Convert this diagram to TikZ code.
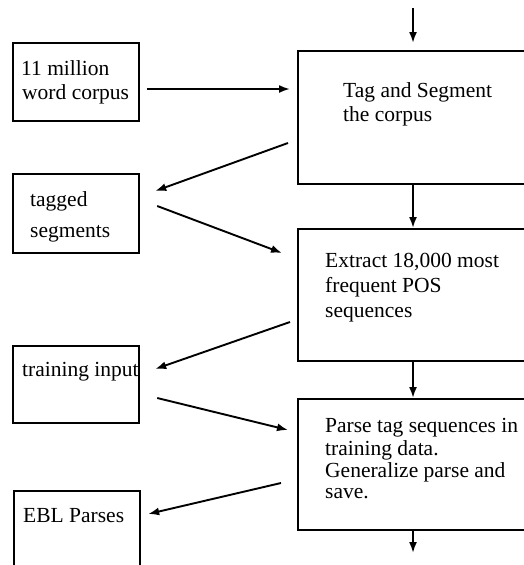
\documentclass[tikz,border=0pt]{standalone}
\usepackage{fontspec}
\setmainfont{Liberation Serif}
\usetikzlibrary{arrows.meta,calc}
\begin{document}
\begin{tikzpicture}[x=1pt,y=-1pt,
  box/.style={draw=black,line width=2.2pt,rectangle,inner sep=0pt,anchor=north west},
  arr/.style={line width=1.9pt,-{Latex[length=11pt,width=8pt]}},
  txt/.style={anchor=base west,inner sep=0pt,font=\fontsize{21.5}{25}\selectfont}]
\clip (0,0) rectangle (524,565);
\fill[white] (0,0) rectangle (524,565);
% left boxes
\node[box,minimum width=126pt,minimum height=78pt] (b1) at (12,42) {};
\node[box,minimum width=126pt,minimum height=79pt] (b2) at (12,173) {};
\node[box,minimum width=126pt,minimum height=77pt] (b3) at (12,345) {};
\node[box,minimum width=126pt,minimum height=100pt] (b4) at (13,490) {};
% right boxes
\node[box,minimum width=260pt,minimum height=133pt] (A) at (297,50) {};
\node[box,minimum width=260pt,minimum height=132pt] (B) at (297,228) {};
\node[box,minimum width=260pt,minimum height=131pt] (C) at (297,398) {};
% texts
\node[txt] (t1a) at (21,75) {11 million};
\node[txt] (t1b) at (22,99) {word corpus};
\node[txt] (t2a) at (30,206) {tagged};
\node[txt] (t2b) at (30,237) {segments};
\begin{scope}
\clip (0,340) rectangle (138,430);
\node[txt] (t3a) at (22,376) {training input};
\end{scope}
\node[txt] (t4a) at (23,522) {EBL Parses};
\node[txt] (tAa) at (343,97) {Tag and Segment};
\node[txt] (tAb) at (343,121) {the corpus};
\node[txt] (tBa) at (325,267) {Extract 18,000 most};
\node[txt] (tBb) at (325,292) {frequent POS};
\node[txt] (tBc) at (325,317) {sequences};
\node[txt] (tCa) at (325,432) {Parse tag sequences in};
\node[txt] (tCb) at (325,455) {training data.};
\node[txt] (tCc) at (325,477) {Generalize parse and};
\node[txt] (tCd) at (325,498) {save.};
% vertical arrows
\coordinate (top) at (413,8);
\coordinate (bot) at (413,553);
\draw[arr] (top) -- ($(A.north west)+(116,-7)$);
\draw[arr] ($(A.south west)+(116,0)$) -- ($(B.north west)+(116,0)$);
\draw[arr] ($(B.south west)+(116,0)$) -- ($(C.north west)+(116,0)$);
\draw[arr] ($(C.south west)+(116,0)$) -- (bot);
% side arrows
\draw[arr] ($(b1.north east)+(7,47)$) -- ($(A.north west)+(-7,39)$);
\draw[arr] ($(A.north west)+(-9,93)$) -- ($(b2.north east)+(15,18)$);
\draw[arr] ($(b2.north east)+(17,33)$) -- ($(B.north west)+(-15,25)$);
\draw[arr] ($(B.north west)+(-7,94)$) -- ($(b3.north east)+(15,24)$);
\draw[arr] ($(b3.north east)+(17,53)$) -- ($(C.north west)+(-9,32)$);
\draw[arr] ($(C.north west)+(-16,85)$) -- ($(b4.north east)+(7,24)$);
\end{tikzpicture}
\end{document}
